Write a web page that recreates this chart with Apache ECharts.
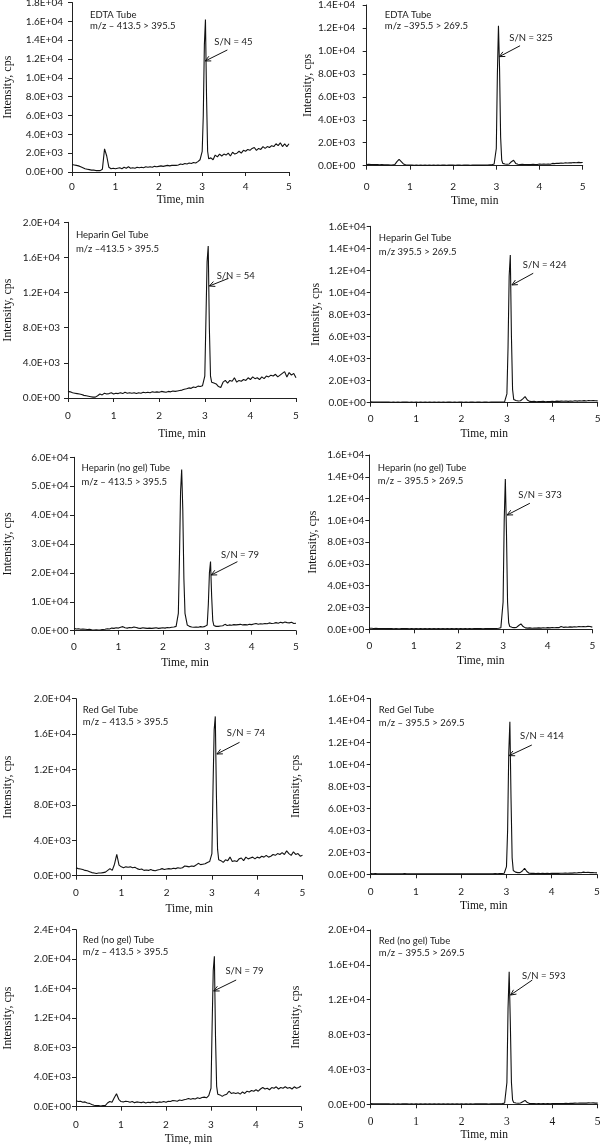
<!DOCTYPE html>
<html>
<head>
<meta charset="utf-8">
<script src="https://cdn.jsdelivr.net/npm/echarts@6/dist/echarts.min.js"></script>
<style>
html,body{margin:0;padding:0;background:#fff;}
#c{width:600px;height:1145px;}
</style>
</head>
<body>
<div id="c"></div>
<script>
// ---------------- DATA ----------------
// shared retention-time grid (min)
const times = [
  0,0.05,0.1,0.15,0.2,0.25,0.3,0.35,0.4,0.45,
  0.5,0.55,0.6,0.65,0.7,0.75,0.8,0.85,0.9,0.95,
  1,1.05,1.1,1.15,1.2,1.25,1.3,1.35,1.4,1.45,
  1.5,1.55,1.6,1.65,1.7,1.75,1.8,1.85,1.9,1.95,
  2,2.05,2.1,2.15,2.2,2.25,2.3,
  2.35,2.375,2.4,2.425,2.45,2.475,2.5,
  2.55,2.6,2.65,2.7,2.75,2.8,2.85,2.9,2.95,
  3,3.025,3.05,3.075,3.1,3.125,3.15,
  3.2,3.25,3.3,3.35,3.4,3.45,3.5,3.55,3.6,3.65,
  3.7,3.75,3.8,3.85,3.9,3.95,4,4.05,4.1,4.15,
  4.2,4.25,4.3,4.35,4.4,4.45,4.5,4.55,4.6,4.65,
  4.7,4.75,4.8,4.85,4.9,4.95,5
];

const edta413 = [
  800,750,700,650,550,450,350,300,250,200,
  200,150,150,150,300,2450,1700,500,350,400,
  350,400,450,350,500,400,550,400,450,400,
  500,450,500,450,550,500,550,500,600,550,
  600,650,600,650,700,650,700,
  700,750,700,800,750,800,850,
  800,900,850,950,900,1000,950,1100,1300,
  2200,6000,13500,16200,8000,2200,1400,
  1500,1300,1800,1600,1900,1700,1900,1800,2000,1700,
  2100,1900,2000,2200,2000,2300,2200,2400,2300,2500,
  2600,2300,2500,2400,2700,2500,2700,2600,2800,2700,
  3000,2800,3100,2700,3000,2700,3000
];
const edta395 = [
  100,120,100,110,90,100,80,90,70,80,
  70,60,70,100,350,550,350,150,80,60,
  50,50,40,50,40,50,40,50,40,50,
  40,50,40,50,40,50,50,40,50,50,
  50,40,50,50,40,50,50,
  50,50,40,50,50,50,50,
  50,50,60,50,60,60,70,80,150,
  1500,8000,12200,8500,2500,500,200,
  150,120,150,350,480,200,120,100,120,100,
  110,90,100,120,100,110,150,120,140,130,
  150,130,200,180,220,200,230,220,250,230,
  260,250,280,260,290,270,280
];
const hepGel413 = [
  750,700,600,550,500,450,400,300,250,200,
  150,100,100,250,450,350,550,450,500,600,
  450,550,500,600,500,650,550,600,550,600,
  500,600,550,650,600,650,600,700,650,700,
  650,750,700,650,750,700,800,
  750,850,800,900,850,950,900,
  1000,1050,1150,1100,1250,1200,1350,1300,1400,
  2500,9000,15500,17300,8000,2500,1800,
  1700,1600,1300,1200,1800,2000,1700,2000,1900,2300,
  1800,2000,1900,2100,2000,2300,2100,2400,2200,2300,
  2100,2400,2200,2500,2400,2600,2500,2700,2400,2600,
  2800,3000,2400,2900,2600,2800,2300
];
const hepGel395 = [
  80,70,60,70,60,50,60,50,50,40,
  50,40,50,40,50,60,50,40,50,40,
  50,40,50,40,50,40,50,40,50,40,
  50,40,50,40,50,50,40,50,40,50,
  50,40,50,40,50,50,40,
  50,40,50,50,40,50,50,
  50,40,50,50,60,50,60,70,90,
  800,5000,11500,13400,6000,1200,300,
  200,150,180,350,550,250,120,100,120,90,
  110,100,120,90,110,100,130,110,140,120,
  140,130,150,120,160,130,170,140,180,150,
  190,160,200,170,200,180,170
];
const hepNoGel413 = [
  800,600,700,500,600,500,400,450,300,250,
  300,250,300,400,500,700,600,900,800,1000,
  900,1200,1400,1000,900,1100,1000,1300,1100,900,
  800,1000,900,800,900,800,900,1000,800,900,
  1000,900,1100,1000,1200,1300,1500,
  6000,25000,48000,55800,42000,18000,6000,
  2000,1500,1300,1200,1300,1200,1400,1300,1500,
  2000,9000,20000,23900,12000,3500,1800,
  1500,1500,1600,1700,2200,1800,2000,1900,2100,2000,
  2100,2200,2000,2100,2000,2200,2100,2300,2500,2200,
  2400,2300,2500,2400,2700,2500,2600,2800,2600,2900,
  2700,3000,2800,2700,2900,2500,2600
];
const hepNoGel395 = [
  100,90,80,90,80,70,80,70,60,70,
  60,50,60,50,60,80,70,60,50,60,
  50,60,50,60,50,60,50,60,50,60,
  50,60,50,60,50,60,50,60,50,60,
  50,60,50,60,50,60,50,
  60,50,60,50,60,50,60,
  50,60,60,70,60,70,80,90,150,
  2500,10000,13800,9000,2500,600,250,
  180,150,170,350,500,250,130,110,130,100,
  120,110,130,110,140,120,150,130,160,140,
  170,150,250,180,200,190,220,200,240,210,
  250,230,260,240,270,250,200
];
const redGel413 = [
  900,800,750,700,600,550,450,350,300,250,
  300,300,350,400,600,800,600,1300,2400,1200,
  1000,900,1000,950,1000,900,950,800,700,750,
  600,650,600,700,600,550,650,700,800,700,
  750,800,750,850,800,900,850,
  900,950,1100,1000,1050,950,1000,
  1100,1050,1200,1400,1250,1300,1350,1500,1600,
  2500,10000,16500,18000,9000,3000,1800,
  1700,1500,1800,1700,2100,1600,1700,1600,1900,2000,
  1700,2100,1900,2000,2100,1900,2100,2000,2200,2100,
  2300,2100,2200,2400,2300,2500,2400,2600,2400,2800,
  2500,2300,2700,2400,2500,2200,2300
];
const redGel395 = [
  60,50,60,50,50,40,50,40,50,40,
  50,40,50,40,50,60,50,40,50,40,
  50,40,50,40,50,40,50,40,50,40,
  50,40,50,40,50,40,50,40,50,40,
  50,40,50,40,50,40,50,
  40,50,40,50,40,50,40,
  50,40,50,50,60,50,60,70,100,
  700,4000,11000,13900,7000,1500,350,
  200,150,150,300,550,250,100,80,90,70,
  80,70,80,60,80,70,90,80,100,80,
  100,90,110,100,120,110,130,120,150,140,
  200,160,180,150,170,140,130
];
const redNoGel413 = [
  800,700,750,600,650,500,450,300,200,150,
  150,100,150,150,500,700,600,1200,1750,1000,
  700,650,750,700,600,700,550,650,600,550,
  650,500,600,550,650,600,550,650,600,700,
  600,750,700,850,800,750,900,
  850,900,950,900,1000,950,1100,
  1000,1100,1050,1200,1100,1250,1300,1200,1500,
  2500,11000,18500,20400,9500,2800,1700,
  1600,1400,1600,1700,2100,1800,1900,1800,1900,1700,
  2000,1800,2100,2000,2200,2100,2300,2100,2400,2600,
  2400,2500,2300,2600,2500,2700,2400,2600,2500,2700,
  2500,2600,2400,2700,2500,2600,2800
];
const redNoGel395 = [
  80,70,60,70,60,50,60,50,50,40,
  50,40,50,40,50,60,50,40,50,40,
  50,40,50,40,50,40,50,40,50,40,
  50,40,50,40,50,40,50,40,50,40,
  50,40,50,40,50,40,50,
  50,40,50,40,50,40,50,
  50,40,50,50,60,50,60,80,150,
  2500,11000,15200,9500,2500,500,200,
  150,120,150,300,450,200,100,80,90,70,
  80,70,90,70,80,70,90,80,100,90,
  100,90,110,100,120,110,130,120,140,130,
  150,140,160,150,160,140,130
];

const seriesValues = [edta413, edta395, hepGel413, hepGel395, hepNoGel413, hepNoGel395, redGel413, redGel395, redNoGel413, redNoGel395];
const yMax  = [18000, 14000, 20000, 16000, 60000, 16000, 20000, 16000, 24000, 20000];
const yStep = [2000, 2000, 4000, 2000, 10000, 2000, 4000, 2000, 4000, 4000];
const xTicks = [0, 1, 2, 3, 4, 5];
const tubeNames = ['EDTA Tube','EDTA Tube','Heparin Gel Tube','Heparin Gel Tube','Heparin (no gel) Tube','Heparin (no gel) Tube','Red Gel Tube','Red Gel Tube','Red (no gel) Tube','Red (no gel) Tube'];
const mzLabels = ['m/z \u2013 413.5 > 395.5','m/z \u2013395.5 > 269.5','m/z \u2013413.5 > 395.5','m/z 395.5 > 269.5','m/z \u2013 413.5 > 395.5','m/z \u2013 395.5 > 269.5','m/z \u2013 413.5 > 395.5','m/z \u2013 395.5 > 269.5','m/z \u2013 413.5 > 395.5','m/z \u2013 395.5 > 269.5'];
const snValues = [45, 325, 54, 424, 79, 373, 74, 414, 79, 593];
const xAxisName = 'Time, min';
const yAxisName = 'Intensity, cps';

// ---------------- LAYOUT ----------------
const grids = [
  {left:72,    top:2.5,   width:217,   height:169.5},
  {left:366.7, top:5,     width:216,   height:160.7},
  {left:68,    top:222.3, width:228,   height:175.7},
  {left:370.7, top:226.3, width:227,   height:176.4},
  {left:74,    top:457.3, width:222,   height:173.4},
  {left:369.3, top:455,   width:223,   height:174.3},
  {left:76,    top:698.7, width:226.5, height:177},
  {left:370.7, top:698.7, width:226.3, height:175.6},
  {left:76,    top:929.7, width:225,   height:177},
  {left:370.7, top:930,   width:227,   height:174.3}
];
const yNameGap = [58, 47, 54, 49, 60, 50, 62, 69, 62, 69];
const xNameGap = [22, 29, 30, 25, 26, 26, 27, 26, 26, 25];
const xLabelMargin = [10, 16, 13, 11, 11, 11, 12, 12, 13, 12];
const yLabelMargin = [9, 11.5, 8, 5, 5.5, 5, 5, 5.5, 5, 5.5];
// annotation anchors in data units [time, intensity]
const labelAt = [[0.415,17200],[0.42,13560],[0.175,19400],[0.18,15570],[0.17,58550],[0.19,15400],[0.15,19460],[0.18,15560],[0.15,23350],[0.18,19430]];
const labelLH = [10.6, 10.6, 14.3, 14, 13.3, 12.7, 12.3, 12.7, 11.4, 12.3];
const snAt = [[3.28,13800],[3.30,11100],[3.26,13890],[3.35,12490],[3.31,26190],[3.34,12330],[3.33,16090],[3.30,12600],[3.32,18440],[3.33,14760]];
const arrowFrom = [[3.58,12960],[3.55,10450],[3.52,13620],[3.58,11740],[3.68,23880],[3.60,11570],[3.61,15070],[3.56,11780],[3.56,17180],[3.56,14260]];
const arrowTo = [[3.07,11790],[3.07,9500],[3.10,12750],[3.11,10680],[3.09,19270],[3.09,10490],[3.11,13750],[3.06,10810],[3.06,15690],[3.08,12540]];

const sansFont = 'Lato, "Open Sans", sans-serif';
const serifFont = '"Liberation Serif", "DejaVu Serif", serif';

function sci(v){
  if (v === 0) return '0.0E+00';
  const e = Math.floor(Math.log10(v) + 1e-9);
  const m = v / Math.pow(10, e);
  return m.toFixed(1) + 'E+' + String(e).padStart(2, '0');
}

const chart = echarts.init(document.getElementById('c'), null, {width:600, height:1145});

const xAxes = [], yAxes = [], series = [], gridOpts = [];
for (let i = 0; i < 10; i++) {
  gridOpts.push(Object.assign({outerBoundsMode:'none', containLabel:false}, grids[i]));
  const serifTicks = (i === 9);
  xAxes.push({
    type:'value', gridIndex:i, min:0, max:5, interval:1,
    name:xAxisName, nameLocation:'middle', nameGap: xNameGap[i],
    nameTextStyle:{fontFamily:serifFont, fontSize:11.5, color:'#111'},
    axisLine:{show:true, onZero:false, lineStyle:{color:'#222', width:1}},
    axisTick:{show:true, length:4, lineStyle:{color:'#222'}},
    splitLine:{show:false},
    axisLabel:{fontFamily: serifTicks ? serifFont : sansFont, fontSize: serifTicks ? 11.5 : 10, color:'#1a1a1a', margin: xLabelMargin[i],
      formatter: v => String(v)}
  });
  yAxes.push({
    type:'value', gridIndex:i, min:0, max:yMax[i], interval:yStep[i],
    name:yAxisName, nameLocation:'middle', nameGap:yNameGap[i],
    nameTextStyle:{fontFamily:serifFont, fontSize:12, color:'#111'},
    axisLine:{show:true, lineStyle:{color:'#222', width:1}},
    axisTick:{show:true, length:4, lineStyle:{color:'#222'}},
    splitLine:{show:false},
    axisLabel:{fontFamily:sansFont, fontSize:10, color:'#1a1a1a', margin:yLabelMargin[i], formatter: sci}
  });
  series.push({
    type:'line', xAxisIndex:i, yAxisIndex:i, showSymbol:false, symbol:'none',
    lineStyle:{color:'#111', width:1.1}, animation:false, silent:true,
    data: times.map((t, k) => [t, seriesValues[i][k]])
  });
}

chart.setOption({
  animation:false,
  backgroundColor:'#fff',
  grid:gridOpts, xAxis:xAxes, yAxis:yAxes, series:series
});

// annotations positioned through the axes
const graphics = [];
for (let i = 0; i < 10; i++) {
  const finder = {xAxisIndex:i, yAxisIndex:i};
  const lp = chart.convertToPixel(finder, labelAt[i]);
  graphics.push({type:'text', x:lp[0], y:lp[1], silent:true,
    style:{text: tubeNames[i] + '\n' + mzLabels[i], fill:'#1a1a1a', font:'9.5px ' + sansFont, lineHeight:labelLH[i], verticalAlign:'top', align:'left'}});
  const sp = chart.convertToPixel(finder, snAt[i]);
  graphics.push({type:'text', x:sp[0], y:sp[1], silent:true,
    style:{text:'S/N = ' + snValues[i], fill:'#1a1a1a', font:'9.5px ' + sansFont, verticalAlign:'middle', align:'left'}});
  const a = chart.convertToPixel(finder, arrowFrom[i]);
  const b = chart.convertToPixel(finder, arrowTo[i]);
  graphics.push({type:'line', silent:true, shape:{x1:a[0], y1:a[1], x2:b[0], y2:b[1]}, style:{stroke:'#111', lineWidth:1}});
  const ang = Math.atan2(a[1] - b[1], a[0] - b[0]);
  const L = 6, spread = 0.45;
  graphics.push({type:'polyline', silent:true,
    shape:{points:[[b[0] + L*Math.cos(ang+spread), b[1] + L*Math.sin(ang+spread)], [b[0], b[1]], [b[0] + L*Math.cos(ang-spread), b[1] + L*Math.sin(ang-spread)]]},
    style:{stroke:'#111', lineWidth:1, fill:null}});
}
chart.setOption({graphic: graphics});
</script>
</body>
</html>
